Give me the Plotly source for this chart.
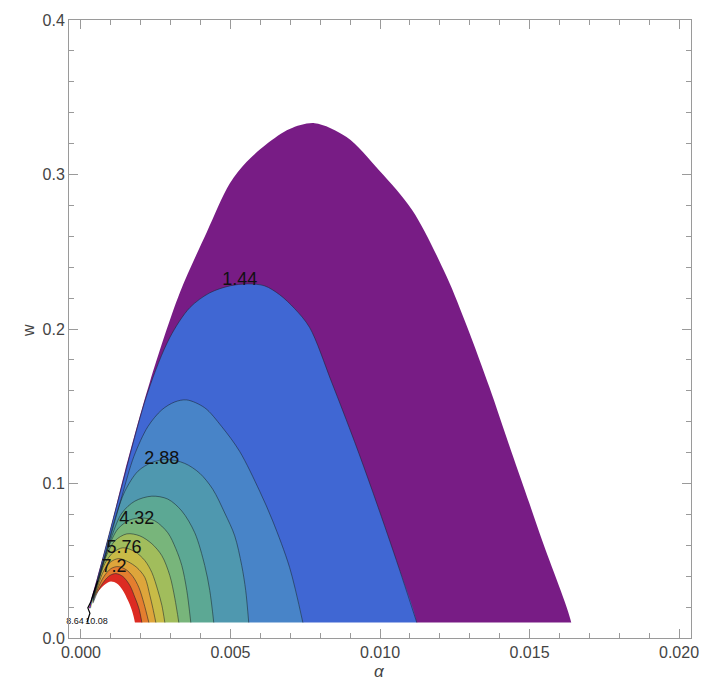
import plotly.graph_objects as go

# ---- contour level values ----
levels = [1.44, 2.16, 2.88, 3.60, 4.32, 5.04, 5.76, 6.48, 7.20, 7.92]

# ---- outer boundary of the plotted region (alpha, w) ----
outer_a = [0.000234, 0.000367, 0.000534, 0.000968, 0.001469, 0.002304, 0.003306, 0.004207,
           0.004975, 0.005543, 0.006210, 0.006978, 0.007813, 0.008881, 0.009983, 0.011085,
           0.012220, 0.012922, 0.013656, 0.014391, 0.014992, 0.015426, 0.016394]
outer_w = [0.0167, 0.0270, 0.0385, 0.0693, 0.1079, 0.1657, 0.2234, 0.2626,
           0.2941, 0.3082, 0.3197, 0.3294, 0.3332, 0.3242, 0.3024, 0.2767,
           0.2343, 0.2010, 0.1624, 0.1207, 0.0873, 0.0629, 0.0100]

# ---- contour curves ----
c144_a = [0.000434, 0.001235, 0.002237, 0.002972, 0.003639, 0.004307, 0.004975, 0.005576,
          0.006144, 0.006644, 0.007145, 0.007646, 0.008381, 0.009149, 0.009750, 0.010551, 0.011230]
c144_w = [0.0295, 0.0886, 0.1592, 0.1945, 0.2138, 0.2234, 0.2279, 0.2292,
          0.2279, 0.2222, 0.2132, 0.2010, 0.1657, 0.1271, 0.0950, 0.0501, 0.0100]
c216_a = [0.000401, 0.000902, 0.001369, 0.001770, 0.002237, 0.002705, 0.003139, 0.003539,
          0.004140, 0.004708, 0.005309, 0.005977, 0.006411, 0.006978, 0.007420]
c216_w = [0.0270, 0.0597, 0.0918, 0.1175, 0.1368, 0.1477, 0.1528, 0.1541,
          0.1490, 0.1368, 0.1207, 0.0950, 0.0758, 0.0456, 0.0100]
c288_a = [0.000401, 0.000801, 0.001169, 0.001469, 0.001903, 0.002371, 0.002871, 0.003472,
          0.003973, 0.004407, 0.004808, 0.005142, 0.005376, 0.005509, 0.005610]
c288_w = [0.0263, 0.0533, 0.0790, 0.0950, 0.1079, 0.1136, 0.1156, 0.1130,
          0.1066, 0.0963, 0.0809, 0.0661, 0.0469, 0.0308, 0.0100]
c360_a = [0.000401, 0.000735, 0.001035, 0.001369, 0.001803, 0.002371, 0.002905, 0.003372,
          0.003806, 0.004140, 0.004307, 0.004441]
c360_w = [0.0257, 0.0469, 0.0661, 0.0809, 0.0886, 0.0918, 0.0899, 0.0822,
          0.0681, 0.0469, 0.0308, 0.0100]
c432_a = [0.000401, 0.000634, 0.000902, 0.001235, 0.001636, 0.002037, 0.002471, 0.002905,
          0.003172, 0.003372, 0.003539, 0.003673]
c432_w = [0.0257, 0.0417, 0.0578, 0.0706, 0.0764, 0.0777, 0.0758, 0.0681,
          0.0578, 0.0469, 0.0308, 0.0100]
c504_a = [0.000401, 0.000601, 0.000835, 0.001135, 0.001536, 0.001970, 0.002371, 0.002705,
          0.002972, 0.003139, 0.003272]
c504_w = [0.0250, 0.0385, 0.0526, 0.0629, 0.0674, 0.0661, 0.0610, 0.0533,
          0.0404, 0.0257, 0.0100]
c576_a = [0.000401, 0.000568, 0.000801, 0.001068, 0.001402, 0.001803, 0.002137, 0.002371,
          0.002571, 0.002705, 0.002805]
c576_w = [0.0244, 0.0360, 0.0482, 0.0552, 0.0584, 0.0559, 0.0501, 0.0424,
          0.0308, 0.0212, 0.0100]
c648_a = [0.000401, 0.000568, 0.000768, 0.001002, 0.001269, 0.001569, 0.001870, 0.002137,
          0.002304, 0.002404, 0.002504]
c648_w = [0.0238, 0.0340, 0.0437, 0.0494, 0.0514, 0.0494, 0.0456, 0.0392,
          0.0276, 0.0193, 0.0100]
c720_a = [0.000401, 0.000568, 0.000768, 0.001002, 0.001235, 0.001503, 0.001736, 0.001937,
          0.002104, 0.002270]
c720_w = [0.0231, 0.0321, 0.0398, 0.0449, 0.0462, 0.0443, 0.0398, 0.0327,
          0.0225, 0.0100]
c792_a = [0.000401, 0.000568, 0.000768, 0.000968, 0.001169, 0.001402, 0.001636, 0.001803,
          0.001937, 0.002037]
c792_w = [0.0225, 0.0302, 0.0366, 0.0405, 0.0417, 0.0398, 0.0340, 0.0263,
          0.0193, 0.0100]
# inner edge of the red band (values beyond the plotted range -> white)
hole_a = [0.000334, 0.000434, 0.000601, 0.000801, 0.001002, 0.001202, 0.001402, 0.001569,
          0.001703, 0.001803]
hole_w = [0.0193, 0.0257, 0.0308, 0.0347, 0.0366, 0.0353, 0.0308, 0.0244,
          0.0180, 0.0100]

# lower cut of the plotted region and the left limit near the origin
w_cut = 0.0100
a_left = 0.000150

# jagged boundary stroke near origin
edge_a = [0.000200, 0.000300, 0.000230, 0.000330, 0.000420, 0.000560]
edge_w = [0.0100, 0.0160, 0.0195, 0.0235, 0.0290, 0.0370]

band_colors = ["#781C85", "#4067D3", "#4884C8", "#4F98AF", "#5CA894", "#78B57B",
               "#A1BD5C", "#C8BB47", "#DEA53B", "#E47E2F", "#DC2B22"]

curves = [(c144_a, c144_w), (c216_a, c216_w), (c288_a, c288_w), (c360_a, c360_w),
          (c432_a, c432_w), (c504_a, c504_w), (c576_a, c576_w), (c648_a, c648_w),
          (c720_a, c720_w), (c792_a, c792_w)]

# contour labels
lab_text = ["1.44", "2.88", "4.32", "5.76", "7.2"]
lab_a = [0.005309, 0.002705, 0.001870, 0.001436, 0.001102]
lab_w = [0.2311, 0.1156, 0.0770, 0.0578, 0.0456]
clutter_text = ["8.64", "10.08"]
clutter_a = [-0.000200, 0.000520]
clutter_w = [0.0103, 0.0103]

fig = go.Figure()

def closed(ca, cw):
    # close the band along (just below) the lower cut
    lo = w_cut * 0.5
    return list(ca) + [ca[-1], a_left], list(cw) + [lo, lo]

def add_band(ca, cw, color):
    xa, yw = closed(ca, cw)
    fig.add_trace(go.Scatter(x=xa, y=yw, mode="lines", fill="toself", fillcolor=color,
                             line=dict(width=0, shape="spline", smoothing=0.9),
                             hoverinfo="skip"))

add_band(outer_a, outer_w, band_colors[0])
for (ca, cw), col in zip(curves, band_colors[1:]):
    add_band(ca, cw, col)
# white hole, extended to the left edge
hx, hy = closed(hole_a, hole_w)
hx = hx + [a_left]
hy = hy + [hole_w[0]]
fig.add_trace(go.Scatter(x=hx, y=hy, mode="lines", fill="toself", fillcolor="white",
                         line=dict(width=0, shape="spline", smoothing=0.9), hoverinfo="skip"))
# white strip below the lower cut
fig.add_trace(go.Scatter(x=[-0.0003, outer_a[-1] + 0.0008, outer_a[-1] + 0.0008, -0.0003],
                         y=[-0.01, -0.01, w_cut, w_cut], mode="lines", fill="toself",
                         fillcolor="white", line=dict(width=0), hoverinfo="skip"))
# contour lines
for ca, cw in curves:
    fig.add_trace(go.Scatter(x=ca, y=cw, mode="lines",
                             line=dict(color="rgba(25,35,45,0.6)", width=0.9,
                                       shape="spline", smoothing=0.9),
                             hoverinfo="skip"))
fig.add_trace(go.Scatter(x=edge_a, y=edge_w, mode="lines",
                         line=dict(color="black", width=1.2), hoverinfo="skip"))
fig.add_trace(go.Scatter(x=lab_a, y=lab_w, mode="text", text=lab_text,
                         textfont=dict(family="Liberation Sans, Arial", size=18, color="#111"),
                         hoverinfo="skip"))
fig.add_trace(go.Scatter(x=clutter_a, y=clutter_w, mode="text", text=clutter_text,
                         cliponaxis=False,
                         textfont=dict(family="Liberation Sans, Arial", size=9, color="#111"),
                         hoverinfo="skip"))

axis_common = dict(showgrid=False, zeroline=False, showline=True, linecolor="#9a9a9a",
                   linewidth=1, mirror="ticks", ticks="inside", tickcolor="#9a9a9a",
                   tickfont=dict(family="Liberation Sans, Arial", size=16, color="#444"))
fig.update_xaxes(range=[-0.0004, 0.0204], dtick=0.005, tick0=0, tickformat=".3f",
                 ticklen=9, minor=dict(ticks="inside", dtick=0.001, tick0=0, ticklen=5,
                                       tickcolor="#9a9a9a"), **axis_common)
fig.update_yaxes(range=[0, 0.4], dtick=0.1, tick0=0, tickformat=".1f",
                 ticklen=9, minor=dict(ticks="inside", dtick=0.02, tick0=0, ticklen=5,
                                       tickcolor="#9a9a9a"), **axis_common)

fig.update_layout(
    width=711, height=692, showlegend=False,
    margin=dict(l=69, r=19, t=15, b=54),
    plot_bgcolor="white", paper_bgcolor="white",
    annotations=[
        dict(text="w", x=0, y=0.4976, xref="paper", yref="paper", xshift=-51, showarrow=False,
             textangle=-90, font=dict(family="Liberation Sans, Arial", size=16, color="#444")),
        dict(text="<i>α</i>", x=0.499, y=0, xref="paper", yref="paper", yshift=-45,
             showarrow=False, font=dict(family="Liberation Sans, Arial", size=17, color="#444")),
    ],
)

fig.write_html("out.html")
